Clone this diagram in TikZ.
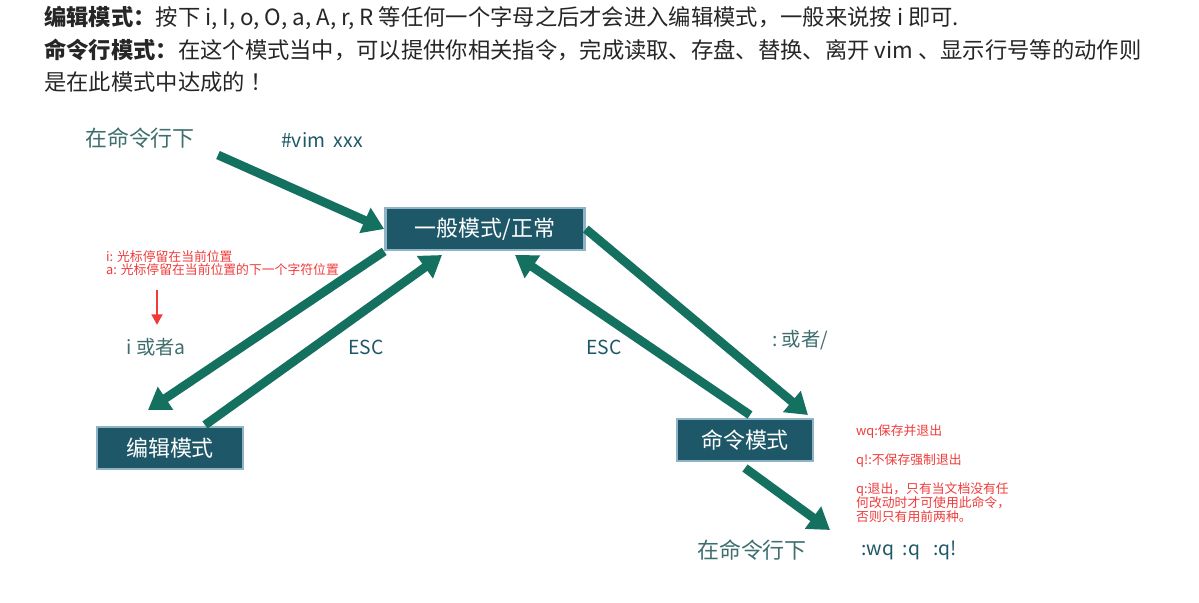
\documentclass[tikz,border=0pt]{standalone}
\usepackage{fontspec}
\setmainfont{Noto Sans CJK SC}
\usetikzlibrary{arrows.meta}
\definecolor{tealA}{HTML}{14705F}
\definecolor{boxF}{HTML}{1E5868}
\definecolor{boxB}{HTML}{8FB4C8}
\definecolor{grayT}{HTML}{3E6E6E}
\definecolor{redT}{HTML}{F03A3A}
\tikzset{
  mbox/.style={draw=boxB,line width=1.5pt,fill=boxF,text=white,font=\fontsize{12.5}{14}\selectfont,inner sep=0pt,minimum height=24pt},
  bigarrow/.style={draw=tealA,line width=5pt,-{Triangle[length=12pt,width=15pt]}},
  lbl/.style={text=grayT,font=\fontsize{11}{13}\selectfont},
  head/.style={anchor=west,font=\fontsize{12.7}{14}\selectfont,text=black!85},
  redtxt/.style={anchor=west,text=redT,font=\fontsize{7.3}{8}\selectfont,align=left}
}
\begin{document}
\begin{tikzpicture}[x=0.02cm,y=-0.02cm]
\useasboundingbox (0,0) rectangle (1199,602);
\node[head] (h1) at (38,18) {\textbf{编辑模式：}按下 i, I, o, O, a, A, r, R 等任何一个字母之后才会进入编辑模式，一般来说按 i 即可.};
\node[head] (h2) at (38,50) {\textbf{命令行模式：}在这个模式当中，可以提供你相关指令，完成读取、存盘、替换、离开 vim 、显示行号等的动作则};
\node[head] (h3) at (38,82) {是在此模式中达成的 ！};
\node[lbl,font=\fontsize{12.5}{14}\selectfont] (t1) at (140,138) {在命令行下};
\node[lbl,text=boxF] (t2) at (322,140) {\#vim\ \ xxx};
\node[mbox,minimum width=3.98cm] (gen) at (485,229) {一般模式/正常};
\node[mbox,minimum width=2.92cm] (edit) at (170,448) {编辑模式};
\node[mbox,minimum width=2.72cm] (cmd) at (745,440) {命令模式};
\coordinate (a1s) at (218,155);
\coordinate (e1) at (148,410);
\coordinate (e2) at (205,425);
\coordinate (g2) at (442,255);
\coordinate (c1) at (750,415);
\coordinate (g3) at (515,255);
\coordinate (c2) at (808,415);
\coordinate (c3) at (745,468);
\coordinate (c4) at (830,530);
\draw[bigarrow] (a1s) -- (gen.west);
\draw[bigarrow] (gen.south west) -- (e1);
\draw[bigarrow] (e2) -- (g2);
\draw[bigarrow] (c1) -- (g3);
\draw[bigarrow] (gen.east) -- (c2);
\draw[bigarrow] (c3) -- (c4);
\node[lbl] (ia) at (156,347) {\textit{i} 或者\textit{a}};
\node[lbl,text=boxF] (esc1) at (366,347) {ESC};
\node[lbl,text=boxF] (esc2) at (604,347) {ESC};
\node[lbl] (or) at (800,340) {:\ 或者/};
\node[redtxt] (r1) at (100,257) {i: 光标停留在当前位置};
\node[redtxt] (r2) at (100,270) {a: 光标停留在当前位置的下一个字符位置};
\coordinate (ra) at (157,290);
\coordinate (rb) at (157,325);
\draw[redT,line width=1.5pt,-{Triangle[length=6pt,width=6pt]}] (ra) -- (rb);
\node[redtxt] (w1) at (850,432) {wq:保存并退出};
\node[redtxt] (w2) at (850,461) {q!:不保存强制退出};
\node[redtxt] (w3) at (850,503) {q:退出，只有当文档没有任\\何改动时才可使用此命令，\\否则只有用前两种。};
\node[lbl,font=\fontsize{12.5}{14}\selectfont] (t3) at (752,550) {在命令行下};
\node[lbl,text=boxF,anchor=west] (t4) at (855,550) {:wq\ \ :q\ \ \ :q!};
\end{tikzpicture}
\end{document}
